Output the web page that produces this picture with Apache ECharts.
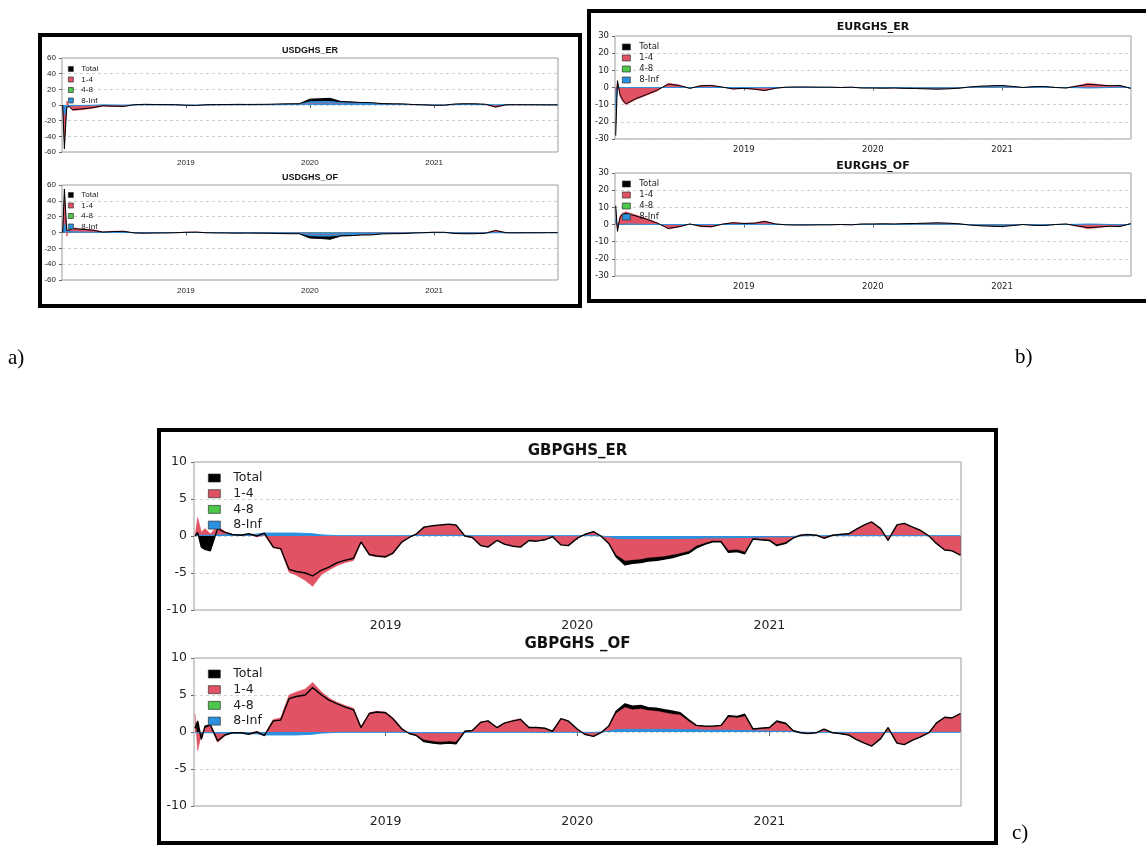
<!DOCTYPE html>
<html><head><meta charset="utf-8">
<script src="https://cdn.jsdelivr.net/npm/echarts@6/dist/echarts.min.js"></script>
<style>html,body{margin:0;padding:0;background:#fff}#c{width:1146px;height:852px}</style>
</head><body><div id="c"></div>
<script>
// ---------------- DATA ----------------
const seriesNames = ['Total', '1-4', '4-8', '8-Inf'];
const yearTicks = [2019, 2020, 2021];

const smallDates = ['2018-01-03','2018-01-08','2018-01-15','2018-01-22',
 '2018-02-01','2018-03-01','2018-04-01','2018-05-01','2018-06-01','2018-07-01','2018-08-01','2018-09-01','2018-10-01','2018-11-01','2018-12-01',
 '2019-01-01','2019-02-01','2019-03-01','2019-04-01','2019-05-01','2019-06-01','2019-07-01','2019-08-01','2019-09-01','2019-10-01','2019-11-01','2019-12-01',
 '2020-01-01','2020-02-01','2020-03-01','2020-04-01','2020-05-01','2020-06-01','2020-07-01','2020-08-01','2020-09-01','2020-10-01','2020-11-01','2020-12-01',
 '2021-01-01','2021-02-01','2021-03-01','2021-04-01','2021-05-01','2021-06-01','2021-07-01','2021-08-01','2021-09-01','2021-10-01','2021-11-01','2021-12-01',
 '2021-12-31'];

const gbpDates = ['2018-01-03','2018-01-08','2018-01-15','2018-01-22',
 '2018-02-01','2018-02-15','2018-03-01','2018-03-15','2018-04-01','2018-04-15','2018-05-01','2018-05-15','2018-06-01','2018-06-15','2018-07-01','2018-07-15','2018-08-01','2018-08-15','2018-09-01','2018-09-15','2018-10-01','2018-10-15','2018-11-01','2018-11-15','2018-12-01','2018-12-15',
 '2019-01-01','2019-01-15','2019-02-01','2019-02-15','2019-03-01','2019-03-15','2019-04-01','2019-04-15','2019-05-01','2019-05-15','2019-06-01','2019-06-15','2019-07-01','2019-07-15','2019-08-01','2019-08-15','2019-09-01','2019-09-15','2019-10-01','2019-10-15','2019-11-01','2019-11-15','2019-12-01','2019-12-15',
 '2020-01-01','2020-01-15','2020-02-01','2020-02-15','2020-03-01','2020-03-15','2020-04-01','2020-04-15','2020-05-01','2020-05-15','2020-06-01','2020-06-15','2020-07-01','2020-07-15','2020-08-01','2020-08-15','2020-09-01','2020-09-15','2020-10-01','2020-10-15','2020-11-01','2020-11-15','2020-12-01','2020-12-15',
 '2021-01-01','2021-01-15','2021-02-01','2021-02-15','2021-03-01','2021-03-15','2021-04-01','2021-04-15','2021-05-01','2021-05-15','2021-06-01','2021-06-15','2021-07-01','2021-07-15','2021-08-01','2021-08-15','2021-09-01','2021-09-15','2021-10-01','2021-10-15','2021-11-01','2021-11-15','2021-12-01','2021-12-15',
 '2021-12-31'];

// USDGHS_ER
const usdErTotal = [0,-56,-3,-2, -6,-5,-3.5,-1,-1.5,-1.8,0.3,0.8,0.6,0.5,0.4,
 -0.3,-0.5,0.3,0.5,0.6,0.8,0.7,0.8,0.9,1.3,1.5,1.6,
 7.5,8,8.5,4.5,4,3.2,3,1.8,1.5,1.4,0.6,0.2,
 -0.3,-0.2,1.2,1.6,1.5,1,-2.5,0.3,0.4,0.3,0.3,0.2, 0.2];
const usdEr14 = [0,-44,5,-1, -7,-6,-4,-1.5,-1.8,-2,0.4,0.9,0.7,0.6,0.5,
 -0.4,-0.6,0.3,0.5,0.6,0.7,0.6,0.6,0.6,0.8,0.9,0.9,
 2,2.2,2.5,2,2.5,2.8,2.5,1.2,1,0.8,0.3,0.1,
 -0.3,-0.2,0.8,1,1,0.6,-3,0.1,0.1,0.1,0.1,0, 0];
const usdEr48 = [0,-1,0,0, 0.2,0.1,0.1,0,0,0,0,0,0,0,0,
 0,0,0,0,0,0,0,0,0,0,0,0,
 0.5,0.5,0.5,0.3,0.2,0.2,0.1,0.1,0.1,0.1,0,0,
 0,0,0,0,0,0,0,0,0,0,0,0, 0];
const usdEr8Inf = [0,-13,-2,-1, -1,-0.5,-0.3,0.2,0.1,0,0.1,0.1,0.1,0.1,0,
 0,0,0,0.1,0.1,0.2,0.2,0.3,0.4,0.5,0.6,0.7,
 4,4.5,4.5,3,2.5,2,1.8,1.2,1,0.9,0.5,0.3,
 0.1,0.1,0.5,0.7,0.7,0.5,0.3,0.4,0.5,0.4,0.4,0.3, 0.3];

// USDGHS_OF
const usdOfTotal = [0,55,3,3, 5,4,3,0.5,1.2,1.5,-0.5,-0.8,-0.6,-0.5,-0.3,
 0.3,0.5,-0.3,-0.5,-0.6,-0.8,-0.7,-0.8,-0.9,-1.3,-1.5,-1.6,
 -7,-7.5,-8.5,-4.5,-4,-3.2,-3,-1.8,-1.5,-1.4,-0.6,-0.2,
 0.3,0.2,-1.2,-1.6,-1.5,-1,2.5,-0.3,-0.4,-0.3,-0.3,-0.2, -0.2];
const usdOf14 = [0,42,-5,4, 6,4.5,3.5,0.8,1.5,1.8,-0.6,-0.9,-0.7,-0.6,-0.4,
 0.4,0.6,-0.3,-0.5,-0.6,-0.7,-0.6,-0.6,-0.6,-0.8,-0.9,-0.9,
 -2,-2.2,-2.5,-2,-2.5,-2.8,-2.5,-1.2,-1,-0.8,-0.3,-0.1,
 0.3,0.2,-0.8,-1,-1,-0.6,3,-0.1,-0.1,-0.1,-0.1,0, 0];
const usdOf48 = [0,1,0,0, -0.2,-0.1,-0.1,0,0,0,0,0,0,0,0,
 0,0,0,0,0,0,0,0,0,0,0,0,
 -0.5,-0.5,-0.5,-0.3,-0.2,-0.2,-0.1,-0.1,-0.1,-0.1,0,0,
 0,0,0,0,0,0,0,0,0,0,0,0, 0];
const usdOf8Inf = [0,11,2,1, 1,0.5,0.3,0,0,0,-0.1,-0.1,-0.1,-0.1,0,
 0,0,0,-0.1,-0.1,-0.2,-0.2,-0.3,-0.4,-0.5,-0.6,-0.7,
 -4,-4.5,-4.5,-3,-2.5,-2,-1.8,-1.2,-1,-0.9,-0.5,-0.3,
 -0.1,-0.1,-0.5,-0.7,-0.7,-0.5,-0.3,-0.4,-0.5,-0.4,-0.4,-0.3, -0.3];

// EURGHS_ER
const eurErTotal = [-28,4,-4,-7, -9.5,-6.5,-4,-1.5,2,1.2,-0.5,1,1.2,0.2,-0.8,
 -0.5,-1,-1.8,-0.4,0.2,0.3,0.3,0.2,0.2,0,0.2,-0.3,
 -0.3,-0.4,-0.3,-0.5,-0.6,-0.8,-1,-0.8,-0.4,0.3,0.8,1,
 1.2,0.6,0,0.5,0.6,0,-0.3,0.8,1.8,1.5,1,1.2, -0.5];
const eurEr14 = [-3,3,-5,-8, -10,-7,-4.5,-2,2.5,1.5,-0.5,1.2,1.3,0.3,-1,
 -0.6,-1.1,-1.8,-0.4,0.2,0.3,0.3,0.2,0.2,0,0.2,-0.2,
 -0.2,-0.3,-0.3,-0.4,-0.4,-0.5,-0.6,-0.5,-0.2,0.2,0.4,0.5,
 0.6,0.3,0,0.4,0.5,0.1,-0.3,1,2.5,1.8,1,0.8, -0.5];
const eurEr48 = [0,0,0,0, 0,0,0,0,0,0,0,0,0,0,0,
 0,0,0,0,0,0,0,0,0,0,0,0,
 0,0,0,0,0,0,0,0,0,0,0.1,0.1,
 0.1,0,0,0,0,0,0,0,0,0,0,0, 0];
const eurEr8Inf = [-12,0,0,0, 0,0,0,0,0,0,0,0,0,0,0,
 0,0,-0.1,0,0,0,0,0,0,0,0,0,
 -0.1,-0.1,0,-0.1,-0.2,-0.2,-0.3,-0.3,-0.2,0.1,0.3,0.4,
 0.5,0.3,0,0.1,0.1,0,0,-0.1,-0.3,-0.2,0,0.3, 0];

// EURGHS_OF
const eurOfTotal = [11,-4,4,6, 6.5,5,3,0.8,-2.3,-1.3,0.3,-1,-1.3,0.2,1,
 0.6,0.8,1.8,0.3,-0.2,-0.3,-0.3,-0.2,-0.2,0,-0.2,0.3,
 0.3,0.4,0.3,0.5,0.6,0.8,1,0.8,0.4,-0.3,-0.8,-1,
 -1.2,-0.6,0,-0.5,-0.6,0,0.3,-0.8,-1.8,-1.5,-1,-1.2, 0.5];
const eurOf14 = [1,-2,5,6.5, 7.5,5.5,3.5,1,-2.6,-1.5,0.3,-1.3,-1.5,0.3,1.2,
 0.7,0.9,2,0.3,-0.2,-0.3,-0.3,-0.2,-0.2,0,-0.2,0.2,
 0.2,0.3,0.3,0.4,0.4,0.5,0.6,0.5,0.2,-0.2,-0.4,-0.5,
 -0.6,-0.3,0,-0.4,-0.5,-0.1,0.3,-1,-2.5,-1.8,-1,-0.8, 0.5];
const eurOf48 = [0,0,0,0, 0,0,0,0,0,0,0,0,0,0,0,
 0,0,0,0,0,0,0,0,0,0,0,0,
 0,0,0,0,0,0,0,0,0,0,-0.1,-0.1,
 -0.1,0,0,0,0,0,0,0,0,0,0,0, 0];
const eurOf8Inf = [3,0,0,0, 0.3,0.2,0,0,0,0,0,0,0,0,0,
 0,0,0.1,0,0,0,0,0,0,0,0,0,
 0.1,0.1,0,0.1,0.2,0.2,0.3,0.3,0.2,-0.1,-0.3,-0.4,
 -0.5,-0.3,0,-0.1,-0.1,0,0,0.1,0.3,0.2,0,-0.3, 0];

// GBPGHS_ER
const gbpErTotal = [0,0.5,-1.5,-1.8,
 -2.0,1.0,0.5,0.2,0.1,0.3,0.0,0.4,-1.5,-1.7,-4.5,-4.8,-5.0,-5.4,-4.6,-4.2,-3.6,-3.3,-3.0,-0.8,-2.5,-2.7,
 -2.8,-2.3,-0.8,-0.2,0.3,1.2,1.4,1.5,1.6,1.5,0.0,-0.2,-1.3,-1.5,-0.6,-1.1,-1.4,-1.5,-0.6,-0.7,-0.5,-0.1,-1.2,-1.3,
 -0.3,0.2,0.6,0.0,-1.0,-2.8,-3.9,-3.7,-3.6,-3.4,-3.3,-3.1,-2.9,-2.6,-2.3,-1.6,-1.1,-0.8,-0.8,-2.2,-2.1,-2.4,-0.4,-0.5,
 -0.6,-1.3,-1.0,-0.3,0.1,0.2,0.1,-0.3,0.1,0.2,0.3,0.9,1.5,1.9,1.0,-0.6,1.5,1.7,1.2,0.8,0.0,-1.0,-1.9,-2.0,
 -2.6];
const gbpEr14 = [0,2.5,0.5,1.0,
 0.3,1.3,0.6,0.2,0.1,0.2,-0.1,0.1,-1.6,-1.8,-4.9,-5.3,-6.0,-6.8,-5.2,-4.6,-4.0,-3.6,-3.3,-0.9,-2.6,-2.8,
 -2.9,-2.4,-0.9,-0.2,0.3,1.1,1.3,1.4,1.5,1.4,0.0,-0.2,-1.2,-1.4,-0.6,-1.0,-1.3,-1.4,-0.6,-0.7,-0.5,-0.1,-1.2,-1.2,
 -0.3,0.2,0.6,0.0,-0.9,-2.5,-3.3,-3.2,-3.1,-2.9,-2.8,-2.7,-2.5,-2.3,-2.0,-1.3,-0.9,-0.6,-0.6,-1.9,-1.8,-2.1,-0.3,-0.4,
 -0.5,-1.1,-0.8,-0.2,0.1,0.2,0.1,-0.3,0.1,0.2,0.3,0.9,1.5,1.9,1.0,-0.6,1.5,1.7,1.2,0.8,0.0,-1.0,-1.9,-2.0,
 -2.6];
const gbpEr48 = [0,0,0,0,
 0,0,0,0,0,0,0,0,0,0,0,0,0,0,0,0,0,0,0,0,0,0,
 0,0,0,0,0,0,0,0,0,0,0,0,0,0,0,0,0,0,0,0,0,0,0,0,
 0,0,0,0,0,0,0,0,0,0,0,0,0,0,0,0,0,0,0,0,0,0,0,0,
 0,0,0,0,0,0,0,0,0,0,0,0,0,0,0,0,0,0,0,0,0,0,0,0,
 0];
const gbpEr8Inf = [0.1,0.1,0.1,0.1,
 0.1,0.15,0.15,0.2,0.2,0.2,0.25,0.4,0.4,0.4,0.4,0.4,0.35,0.3,0.15,0.1,0.05,0.05,0.05,0.05,0.05,0.05,
 0.05,0.05,0.05,0.05,0.1,0.1,0.1,0.1,0.1,0.1,0.05,0.05,0.05,0.05,0.05,0.05,0.05,0.05,0.05,0.05,0.05,0.05,0.05,0.05,
 0.05,0.05,0.05,0.0,-0.1,-0.3,-0.35,-0.35,-0.35,-0.35,-0.35,-0.35,-0.35,-0.3,-0.3,-0.3,-0.25,-0.25,-0.25,-0.25,-0.2,-0.2,-0.15,-0.15,
 -0.1,-0.1,-0.1,-0.05,0.0,0.05,0.05,0.05,0.05,0.05,0.05,0.05,0.05,0.05,0.05,0.05,0.05,0.05,0.05,0.05,0.05,0.05,0.05,0.05,
 0.05];

// GBPGHS _OF
const gbpOfTotal = [0.5,1.5,-1.0,0.8,
 1.0,-1.2,-0.4,-0.1,-0.1,-0.3,0.0,-0.5,1.5,1.6,4.5,4.8,5.0,6.0,5.0,4.3,3.8,3.4,3.0,0.6,2.5,2.7,
 2.6,1.8,0.4,-0.2,-0.5,-1.3,-1.5,-1.6,-1.5,-1.6,0.1,0.2,1.3,1.5,0.6,1.2,1.5,1.7,0.6,0.6,0.5,0.1,1.8,1.5,
 0.4,-0.3,-0.6,-0.1,0.8,2.8,3.8,3.5,3.6,3.3,3.2,3.0,2.8,2.6,1.6,0.9,0.8,0.8,0.9,2.2,2.1,2.4,0.4,0.5,
 0.6,1.5,1.2,0.2,-0.1,-0.2,-0.1,0.4,-0.1,-0.2,-0.4,-1.0,-1.5,-1.9,-0.9,0.6,-1.5,-1.7,-1.1,-0.7,-0.1,1.2,2.0,1.9,
 2.5];
const gbpOf14 = [2.5,-2.5,-0.3,0.5,
 0.8,-1.4,-0.5,-0.1,-0.1,-0.2,0.1,-0.4,1.7,1.9,5.0,5.4,5.8,6.7,5.4,4.6,4.0,3.6,3.2,0.7,2.6,2.8,
 2.7,1.9,0.5,-0.2,-0.4,-1.0,-1.2,-1.3,-1.2,-1.3,0.1,0.2,1.4,1.5,0.6,1.2,1.6,1.8,0.6,0.6,0.5,0.1,1.8,1.4,
 0.3,-0.3,-0.6,-0.1,0.7,2.5,3.3,3.0,3.1,2.9,2.8,2.6,2.4,2.3,1.4,0.8,0.7,0.7,0.8,2.0,1.9,2.1,0.4,0.5,
 0.5,1.3,1.0,0.2,-0.1,-0.2,-0.1,0.4,-0.1,-0.2,-0.4,-1.0,-1.5,-1.9,-0.9,0.6,-1.5,-1.7,-1.1,-0.7,-0.1,1.2,2.0,1.9,
 2.5];
const gbpOf48 = [0,0,0,0,
 0,0,0,0,0,0,0,0,0,0,0,0,0,0,0,0,0,0,0,0,0,0,
 0,0,0,0,0,0,0,0,0,0,0,0,0,0,0,0,0,0,0,0,0,0,0,0,
 0,0,0,0,0,0,0,0,0,0,0,0,0,0,0,0,0,0,0,0,0,0,0,0,
 0,0,0,0,0,0,0,0,0,0,0,0,0,0,0,0,0,0,0,0,0,0,0,0,
 0];
const gbpOf8Inf = [-0.1,-0.1,-0.1,-0.1,
 -0.1,-0.15,-0.15,-0.2,-0.2,-0.2,-0.25,-0.4,-0.4,-0.4,-0.4,-0.4,-0.35,-0.3,-0.15,-0.1,-0.05,-0.05,-0.05,-0.05,-0.05,-0.05,
 -0.05,-0.05,-0.05,-0.05,-0.1,-0.1,-0.1,-0.1,-0.1,-0.1,-0.05,-0.05,-0.05,-0.05,-0.05,-0.05,-0.05,-0.05,-0.05,-0.05,-0.05,-0.05,-0.05,-0.05,
 -0.05,-0.05,-0.05,0.0,0.1,0.3,0.35,0.35,0.35,0.35,0.35,0.35,0.35,0.3,0.3,0.3,0.25,0.25,0.25,0.25,0.2,0.2,0.15,0.15,
 0.1,0.1,0.1,0.05,0.0,-0.05,-0.05,-0.05,-0.05,-0.05,-0.05,-0.05,-0.05,-0.05,-0.05,-0.05,-0.05,-0.05,-0.05,-0.05,-0.05,-0.05,-0.05,-0.05,
 -0.05];

// ---------------- LAYOUT / STYLE ----------------
const COLORS = ['#000000', '#E05264', '#4CC74C', '#2B91DF'];
const X_MIN = Date.UTC(2018, 0, 1);
const X_MAX = Date.UTC(2022, 0, 1);
const YEAR_MS = 365.25 * 86400000;
const tickVals = yearTicks.map(y => Date.UTC(y, 0, 1));

const A = {font: 'Liberation Sans', fs: 8, tfs: 9, icon: [5, 5], lh: 8, gap: 2.5, tpad: 3, tick: 3, xm: 7, ym: 3, lw: 1};
const B = {font: 'DejaVu Sans', fs: 8.5, tfs: 11, icon: [8, 6], lh: 9, gap: 2, tpad: 4, tick: 3, xm: 6, ym: 3, lw: 1};
const C = {font: 'DejaVu Sans', fs: 12.5, tfs: 15, icon: [12, 8], lh: 13, gap: 2.7, tpad: 8, tick: 4, xm: 9, ym: 4, lw: 1.4};

const panels = [
  {title: 'USDGHS_ER', dates: smallDates, vals: [usdErTotal, usdEr14, usdEr48, usdEr8Inf], y: [-60, 60, 20],
   grid: {left: 62, top: 58, width: 496, height: 94}, titleY: 51, legend: {left: 68, top: 65}, st: A},
  {title: 'USDGHS_OF', dates: smallDates, vals: [usdOfTotal, usdOf14, usdOf48, usdOf8Inf], y: [-60, 60, 20],
   grid: {left: 62, top: 185, width: 496, height: 95}, titleY: 178, legend: {left: 68, top: 191}, st: A},
  {title: 'EURGHS_ER', dates: smallDates, vals: [eurErTotal, eurEr14, eurEr48, eurEr8Inf], y: [-30, 30, 10],
   grid: {left: 615, top: 36, width: 516, height: 103}, titleY: 27, legend: {left: 622, top: 42.5}, st: B},
  {title: 'EURGHS_OF', dates: smallDates, vals: [eurOfTotal, eurOf14, eurOf48, eurOf8Inf], y: [-30, 30, 10],
   grid: {left: 615, top: 173, width: 516, height: 103}, titleY: 166, legend: {left: 622, top: 179.5}, st: B},
  {title: 'GBPGHS_ER', dates: gbpDates, vals: [gbpErTotal, gbpEr14, gbpEr48, gbpEr8Inf], y: [-10, 10, 5],
   grid: {left: 194, top: 462, width: 767, height: 148}, titleY: 451, legend: {left: 208, top: 471.5}, st: C},
  {title: 'GBPGHS _OF', dates: gbpDates, vals: [gbpOfTotal, gbpOf14, gbpOf48, gbpOf8Inf], y: [-10, 10, 5],
   grid: {left: 194, top: 658, width: 767, height: 148}, titleY: 644, legend: {left: 208, top: 667.5}, st: C}
];

// ---------------- BUILD OPTION ----------------
const grids = [], xAxes = [], yAxes = [], series = [], titles = [], legends = [];
panels.forEach((p, i) => {
  const st = p.st;
  grids.push(Object.assign({show: true, borderColor: '#9c9c9c', borderWidth: 1, backgroundColor: '#fff'}, p.grid));
  xAxes.push({
    gridIndex: i, type: 'value', min: X_MIN, max: X_MAX, interval: YEAR_MS,
    axisLine: {show: false},
    axisTick: {show: true, length: st.tick, lineStyle: {color: '#666'}, customValues: tickVals},
    axisLabel: {customValues: tickVals, fontSize: st.fs, fontFamily: st.font, color: '#222', margin: st.xm,
      formatter: v => { const y = new Date(v).getUTCFullYear(); return (yearTicks.indexOf(y) >= 0) ? String(y) : ''; }},
    splitLine: {show: false}
  });
  yAxes.push({
    gridIndex: i, type: 'value', min: p.y[0], max: p.y[1], interval: p.y[2],
    axisLine: {show: false},
    axisTick: {show: true, length: 3, lineStyle: {color: '#666'}},
    axisLabel: {fontSize: st.fs, fontFamily: st.font, color: '#222', margin: st.ym + 3},
    splitLine: {show: true, lineStyle: {type: [3, 3], color: '#cfcfcf', width: 1}}
  });
  titles.push({
    text: p.title, left: p.grid.left + p.grid.width / 2, top: p.titleY - st.tfs / 2, textAlign: 'center', padding: 0,
    textStyle: {fontSize: st.tfs, fontWeight: 'bold', fontFamily: st.font, color: '#111', lineHeight: st.tfs}
  });
  legends.push({
    left: p.legend.left, top: p.legend.top, orient: 'vertical', padding: 0, icon: 'rect',
    itemWidth: st.icon[0], itemHeight: st.icon[1], itemGap: st.gap, selectedMode: false,
    textStyle: {fontSize: st.fs, lineHeight: st.lh, fontFamily: st.font, color: '#222', padding: [0, 0, 0, st.tpad]},
    data: seriesNames.map((n, k) => ({name: n, itemStyle: {color: COLORS[k], borderColor: '#333', borderWidth: 0.7}}))
  });
  const mk = arr => p.dates.map((d, j) => [Date.parse(d), arr[j]]);
  const base = {type: 'line', xAxisIndex: i, yAxisIndex: i, symbol: 'none', silent: true, animation: false};
  // Total as filled area behind the components
  series.push(Object.assign({}, base, {name: seriesNames[0], data: mk(p.vals[0]),
    lineStyle: {width: 0, color: COLORS[0]}, itemStyle: {color: COLORS[0]}, areaStyle: {color: COLORS[0], opacity: 1, origin: 'auto'}}));
  // Components: 1-4, 4-8, 8-Inf
  [1, 2, 3].forEach(k => {
    series.push(Object.assign({}, base, {name: seriesNames[k], data: mk(p.vals[k]),
      lineStyle: {width: k === 3 ? 1 : (k === 2 ? 0 : 0.6), color: COLORS[k]}, itemStyle: {color: COLORS[k]},
      areaStyle: {color: COLORS[k], opacity: 1, origin: 'auto'}}));
  });
  // Total line on top
  series.push(Object.assign({}, base, {name: seriesNames[0], data: mk(p.vals[0]),
    lineStyle: {width: st.lw, color: COLORS[0]}, itemStyle: {color: COLORS[0]}}));
});

const frames = [
  {x: 40, y: 35, w: 540, h: 271},
  {x: 589, y: 11, w: 570, h: 290},
  {x: 159, y: 430, w: 837, h: 413}
];
const tags = [
  {t: 'a)', x: 8, y: 358},
  {t: 'b)', x: 1015, y: 357},
  {t: 'c)', x: 1012, y: 833}
];
const graphic = [];
frames.forEach(f => graphic.push({type: 'rect', silent: true, z: 100,
  shape: {x: f.x, y: f.y, width: f.w, height: f.h}, style: {fill: 'none', stroke: '#000', lineWidth: 4}}));
tags.forEach(g => graphic.push({type: 'text', silent: true, x: g.x, y: g.y,
  style: {text: g.t, font: '21px "Liberation Serif"', fill: '#000', textVerticalAlign: 'middle', verticalAlign: 'middle'}}));

const chart = echarts.init(document.getElementById('c'), null, {renderer: 'canvas'});
chart.setOption({
  animation: false,
  backgroundColor: '#fff',
  title: titles, legend: legends, grid: grids, xAxis: xAxes, yAxis: yAxes, series: series, graphic: graphic
});
</script>
</body></html>
